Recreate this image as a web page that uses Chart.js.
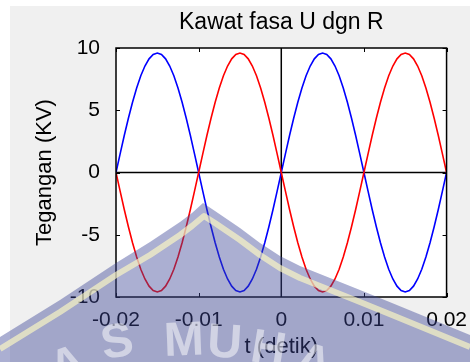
<!DOCTYPE html>
<html>
<head>
<meta charset="utf-8">
<script src="https://cdn.jsdelivr.net/npm/chart.js@4.4.1/dist/chart.umd.min.js"></script>
<style>
  html, body { margin: 0; padding: 0; background: #fff; }
  #wrap { width: 470px; height: 362px; }
</style>
</head>
<body>
<div id="wrap"><canvas id="faseChart" width="470" height="362"></canvas></div>
<script>
// waktu (detik)
const waktu = [
  -0.02, -0.0195, -0.019, -0.0185, -0.018, -0.0175, -0.017, -0.0165, -0.016, -0.0155,
  -0.015, -0.0145, -0.014, -0.0135, -0.013, -0.0125, -0.012, -0.0115, -0.011, -0.0105,
  -0.01, -0.0095, -0.009, -0.0085, -0.008, -0.0075, -0.007, -0.0065, -0.006, -0.0055,
  -0.005, -0.0045, -0.004, -0.0035, -0.003, -0.0025, -0.002, -0.0015, -0.001, -0.0005,
  0, 0.0005, 0.001, 0.0015, 0.002, 0.0025, 0.003, 0.0035, 0.004, 0.0045,
  0.005, 0.0055, 0.006, 0.0065, 0.007, 0.0075, 0.008, 0.0085, 0.009, 0.0095,
  0.01, 0.0105, 0.011, 0.0115, 0.012, 0.0125, 0.013, 0.0135, 0.014, 0.0145,
  0.015, 0.0155, 0.016, 0.0165, 0.017, 0.0175, 0.018, 0.0185, 0.019, 0.0195, 0.02
];

// tegangan fasa U (biru), KV
const teganganU = [
  0, 1.50, 2.97, 4.36, 5.64, 6.79, 7.77, 8.55, 9.13, 9.48,
  9.60, 9.48, 9.13, 8.55, 7.77, 6.79, 5.64, 4.36, 2.97, 1.50,
  0, -1.50, -2.97, -4.36, -5.64, -6.79, -7.77, -8.55, -9.13, -9.48,
  -9.60, -9.48, -9.13, -8.55, -7.77, -6.79, -5.64, -4.36, -2.97, -1.50,
  0, 1.50, 2.97, 4.36, 5.64, 6.79, 7.77, 8.55, 9.13, 9.48,
  9.60, 9.48, 9.13, 8.55, 7.77, 6.79, 5.64, 4.36, 2.97, 1.50,
  0, -1.50, -2.97, -4.36, -5.64, -6.79, -7.77, -8.55, -9.13, -9.48,
  -9.60, -9.48, -9.13, -8.55, -7.77, -6.79, -5.64, -4.36, -2.97, -1.50, 0
];

// tegangan fasa R (merah), KV
const teganganR = [
  0, -1.50, -2.97, -4.36, -5.64, -6.79, -7.77, -8.55, -9.13, -9.48,
  -9.60, -9.48, -9.13, -8.55, -7.77, -6.79, -5.64, -4.36, -2.97, -1.50,
  0, 1.50, 2.97, 4.36, 5.64, 6.79, 7.77, 8.55, 9.13, 9.48,
  9.60, 9.48, 9.13, 8.55, 7.77, 6.79, 5.64, 4.36, 2.97, 1.50,
  0, -1.50, -2.97, -4.36, -5.64, -6.79, -7.77, -8.55, -9.13, -9.48,
  -9.60, -9.48, -9.13, -8.55, -7.77, -6.79, -5.64, -4.36, -2.97, -1.50,
  0, 1.50, 2.97, 4.36, 5.64, 6.79, 7.77, 8.55, 9.13, 9.48,
  9.60, 9.48, 9.13, 8.55, 7.77, 6.79, 5.64, 4.36, 2.97, 1.50, 0
];

// garis nol (sumbu)
const garisNolX = [-0.02, 0.02];
const garisNolY = [-10, 10];

const tickWaktu = [-0.02, -0.01, 0, 0.01, 0.02];
const labelWaktu = ['-0.02', '-0.01', '0', '0.01', '0.02'];
const tickTegangan = [-10, -5, 0, 5, 10];
const labelTegangan = ['-10', '-5', '0', '5', '10'];

const judul = 'Kawat fasa U dgn R';

const fontKu = 'Arial, "Liberation Sans", sans-serif';

// garis tepi watermark (piksel, hiasan saja)
const tepiLogo = [[0, 337], [60, 300], [116, 263], [150, 242], [180, 222], [192, 213], [203, 203],
  [215, 211], [240, 228], [260, 243], [280, 256], [300, 266], [325, 276], [360, 290], [392, 303], [470, 335]];
const garisKuning = [[0, 349], [60, 312], [116, 275], [150, 255], [180, 235], [192, 226], [204, 216],
  [215, 223], [240, 240], [260, 255], [280, 268], [300, 278], [325, 288], [360, 302], [392, 315], [470, 347]];

// latar abu-abu ala figure matlab + area plot putih
const latarPlugin = {
  id: 'latar',
  beforeDraw(chart) {
    const ctx = chart.ctx;
    const a = chart.chartArea;
    ctx.save();
    ctx.fillStyle = '#ffffff';
    ctx.fillRect(0, 0, chart.width, chart.height);
    ctx.fillStyle = '#f0f0f0';
    ctx.fillRect(10, 6, chart.width - 10, chart.height - 6);
    ctx.fillStyle = '#ffffff';
    ctx.fillRect(a.left, a.top, a.right - a.left, a.bottom - a.top);

    // judul di tengah sumbu
    ctx.fillStyle = '#000';
    ctx.font = '23px ' + fontKu;
    ctx.textAlign = 'center';
    ctx.textBaseline = 'alphabetic';
    ctx.fillText(judul, (a.left + a.right) / 2, 29);
    ctx.restore();
  },
  afterDatasetsDraw(chart) {
    const ctx = chart.ctx;
    const a = chart.chartArea;
    const sx = chart.scales.x;
    const sy = chart.scales.y;
    ctx.save();
    ctx.strokeStyle = '#000';
    ctx.lineWidth = 1.5;
    ctx.strokeRect(a.left, a.top, a.right - a.left, a.bottom - a.top);
    ctx.lineWidth = 1;
    ctx.beginPath();
    tickWaktu.forEach(v => {
      const px = Math.round(sx.getPixelForValue(v)) + 0.5;
      ctx.moveTo(px, a.bottom); ctx.lineTo(px, a.bottom - 4);
      ctx.moveTo(px, a.top); ctx.lineTo(px, a.top + 4);
    });
    tickTegangan.forEach(v => {
      const py = Math.round(sy.getPixelForValue(v)) + 0.5;
      ctx.moveTo(a.left, py); ctx.lineTo(a.left + 4, py);
      ctx.moveTo(a.right, py); ctx.lineTo(a.right - 4, py);
    });
    ctx.stroke();
    ctx.restore();
  },
  afterDraw(chart) {
    // watermark logo samar di atas gambar
    const ctx = chart.ctx;
    ctx.save();
    ctx.fillStyle = 'rgba(60,70,150,0.43)';
    ctx.beginPath();
    tepiLogo.forEach((p, i) => i ? ctx.lineTo(p[0], p[1]) : ctx.moveTo(p[0], p[1]));
    ctx.lineTo(470, 362);
    ctx.lineTo(0, 362);
    ctx.closePath();
    ctx.fill();

    ctx.strokeStyle = 'rgba(255,250,195,0.65)';
    ctx.lineWidth = 6;
    ctx.lineJoin = 'round';
    ctx.beginPath();
    garisKuning.forEach((p, i) => i ? ctx.lineTo(p[0], p[1]) : ctx.moveTo(p[0], p[1]));
    ctx.stroke();

    ctx.fillStyle = 'rgba(255,255,255,0.5)';
    ctx.font = 'bold 48px ' + fontKu;
    ctx.textAlign = 'center';
    ctx.textBaseline = 'top';
    [['A', 60, 344, -0.35], ['S', 113, 320, -0.18], ['M', 183, 318, -0.04],
     ['U', 226, 320, 0.06], ['H', 272, 327, 0.16], ['A', 320, 341, 0.3]].forEach(h => {
      ctx.save();
      ctx.translate(h[1], h[2]);
      ctx.rotate(h[3]);
      ctx.fillText(h[0], 0, 0);
      ctx.restore();
    });
    ctx.restore();
  }
};

const ctx = document.getElementById('faseChart').getContext('2d');

new Chart(ctx, {
  type: 'scatter',
  data: {
    datasets: [
      {
        label: 'R',
        data: waktu.map((t, i) => ({ x: t, y: teganganR[i] })),
        showLine: true,
        borderColor: '#ff0000',
        borderWidth: 1.6,
        pointRadius: 0,
        tension: 0
      },
      {
        label: 'U',
        data: waktu.map((t, i) => ({ x: t, y: teganganU[i] })),
        showLine: true,
        borderColor: '#0000ff',
        borderWidth: 1.6,
        pointRadius: 0,
        tension: 0
      },
      {
        label: 'nol-x',
        data: garisNolX.map(t => ({ x: t, y: 0 })),
        showLine: true,
        borderColor: '#000',
        borderWidth: 1.5,
        pointRadius: 0
      },
      {
        label: 'nol-y',
        data: garisNolY.map(v => ({ x: 0, y: v })),
        showLine: true,
        borderColor: '#000',
        borderWidth: 1.5,
        pointRadius: 0
      }
    ]
  },
  options: {
    responsive: false,
    animation: false,
    devicePixelRatio: 1,
    events: [],
    layout: { padding: { top: 48, right: 21, left: 0, bottom: 0 } },
    plugins: {
      legend: { display: false },
      tooltip: { enabled: false },
      title: { display: false }
    },
    scales: {
      x: {
        type: 'linear',
        min: -0.02,
        max: 0.02,
        afterBuildTicks: s => { s.ticks = tickWaktu.map(v => ({ value: v })); },
        afterFit: s => { s.height = 65; },
        grid: { display: false },
        border: { display: false },
        ticks: {
          color: '#000',
          padding: 3,
          maxRotation: 0,
          font: { family: fontKu, size: 21 },
          callback: (v, i) => labelWaktu[i]
        },
        title: {
          display: true,
          text: 't (detik)',
          color: '#000',
          font: { family: fontKu, size: 22 },
          padding: { top: 0, bottom: 2 }
        }
      },
      y: {
        type: 'linear',
        min: -10,
        max: 10,
        afterBuildTicks: s => { s.ticks = tickTegangan.map(v => ({ value: v })); },
        afterFit: s => { s.width = 116; },
        grid: { display: false },
        border: { display: false },
        ticks: {
          color: '#000',
          padding: 8,
          font: { family: fontKu, size: 21 },
          callback: (v, i) => labelTegangan[i]
        },
        title: {
          display: true,
          text: 'Tegangan (KV)',
          color: '#000',
          font: { family: fontKu, size: 22 },
          padding: { top: 32, bottom: 0 }
        }
      }
    }
  },
  plugins: [latarPlugin]
});
</script>
</body>
</html>
